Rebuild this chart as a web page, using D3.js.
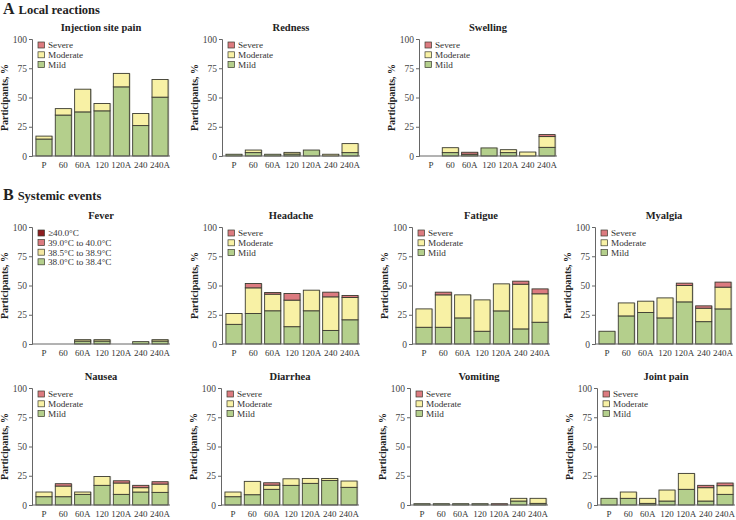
<!DOCTYPE html>
<html><head><meta charset="utf-8">
<script src="https://cdn.jsdelivr.net/npm/d3@7"></script>
<style>
body{margin:0;background:#fff;}
svg{font-family:"Liberation Serif","DejaVu Serif",serif;}
</style></head>
<body><svg id="c" width="736" height="520"></svg>
<script>
const categories = ["P","60","60A","120","120A","240","240A"];
const yTicks = [0,25,50,75,100];
const severityLabels = ["Severe","Moderate","Mild"];
const feverLabels = ["\u226540.0\u00B0C","39.0\u00B0C to 40.0\u00B0C","38.5\u00B0C to 38.9\u00B0C","38.0\u00B0C to 38.4\u00B0C"];

// Local reactions
const painMild = [14.5,35,37.7,38.6,59.1,26,50.3];
const painModerate = [2.5,5.5,19.4,6.3,11.5,10.3,15.1];
const painSevere = [0,0,0,0,0,0,0];
const rednessMild = [1.5,2.9,1.5,1.7,5.1,0,2.9];
const rednessModerate = [0,2.2,0,1.4,0,1.5,7.7];
const rednessSevere = [0,0,0,0,0,0,0];
const swellingMild = [0,2.9,1.5,6.9,2.9,0,7.4];
const swellingModerate = [0,4.2,0,0,2.5,3.4,9.2];
const swellingSevere = [0,0,1.7,0,0,0,1.7];
// Systemic events
const fever38_0 = [0,0,2.5,2.5,0,2,2.5];
const fever38_5 = [0,0,1.2,1.2,0,0,1.2];
const fever39_0 = [0,0,0,0,0,0,0];
const fever40_0 = [0,0,0,0,0,0,0];
const headacheMild = [16.8,26.1,28.4,14.8,28.4,11.6,20.7];
const headacheModerate = [9.3,21.9,14.2,22.7,17.6,28.7,19.1];
const headacheSevere = [0,3.7,1.4,5.7,0,4,1.7];
const fatigueMild = [14.3,14.3,22.3,10.9,28.3,12.9,18.6];
const fatigueModerate = [15.7,27.7,19.7,26.8,23.1,38.2,24.3];
const fatigueSevere = [0,2.3,0,0,0,2.6,4.2];
const myalgiaMild = [10.9,24,26.9,22.3,36,19.1,30];
const myalgiaModerate = [0,11.1,9.7,17.1,14,11.5,18.6];
const myalgiaSevere = [0,0,0,0,2,2,4.3];
const nauseaMild = [7.1,7.1,9.1,16.8,9.1,11.1,10.8];
const nauseaModerate = [4,9.1,2,7.6,9.7,3.7,7.1];
const nauseaSevere = [0,2,0,0,1.9,2,2];
const diarrheaMild = [7.1,8.8,13.4,16.8,18.5,21,15.1];
const diarrheaModerate = [4,11.4,3.6,5.6,4.2,1.7,5.4];
const diarrheaSevere = [0,0,2,0,0,0,0];
const vomitingMild = [1.1,1.1,1.1,1.1,0,3.4,1.4];
const vomitingModerate = [0,0,0,0,0,2.3,4.3];
const vomitingSevere = [0,0,0,0,1.1,0,0];
const jointMild = [5.7,5.7,1.4,3.4,13.4,3.4,9.1];
const jointModerate = [0,5.4,4.3,9.4,13.6,11.4,7.4];
const jointSevere = [0,0,0,0,0,2,2.3];

const green="#b4cf8c", yellow="#f8f1a5", red="#dc7b80", darkred="#8e1d1f";
const sevColors=[red,yellow,green];
const feverColors=[darkred,red,"#f4e7a0",green];

const panels=[
 {title:"Injection site pain",ax:32,top:39,series:[painMild,painModerate,painSevere],leg:severityLabels,colors:sevColors},
 {title:"Redness",ax:222,top:39,series:[rednessMild,rednessModerate,rednessSevere],leg:severityLabels,colors:sevColors},
 {title:"Swelling",ax:419,top:39,series:[swellingMild,swellingModerate,swellingSevere],leg:severityLabels,colors:sevColors},
 {title:"Fever",ax:32,top:227,series:[fever38_0,fever38_5,fever39_0,fever40_0],leg:feverLabels,colors:feverColors},
 {title:"Headache",ax:222,top:227,series:[headacheMild,headacheModerate,headacheSevere],leg:severityLabels,colors:sevColors},
 {title:"Fatigue",ax:412,top:227,series:[fatigueMild,fatigueModerate,fatigueSevere],leg:severityLabels,colors:sevColors},
 {title:"Myalgia",ax:595,top:227,series:[myalgiaMild,myalgiaModerate,myalgiaSevere],leg:severityLabels,colors:sevColors},
 {title:"Nausea",ax:32,top:388,series:[nauseaMild,nauseaModerate,nauseaSevere],leg:severityLabels,colors:sevColors},
 {title:"Diarrhea",ax:221,top:388,series:[diarrheaMild,diarrheaModerate,diarrheaSevere],leg:severityLabels,colors:sevColors},
 {title:"Vomiting",ax:410,top:388,series:[vomitingMild,vomitingModerate,vomitingSevere],leg:severityLabels,colors:sevColors},
 {title:"Joint pain",ax:597,top:388,series:[jointMild,jointModerate,jointSevere],leg:severityLabels,colors:sevColors}
];

const svg=d3.select("#c");
svg.append("rect").attr("width",736).attr("height",520).attr("fill","#fff");

function section(letter,text,y){
  const t=svg.append("text").attr("x",3).attr("y",y).attr("font-weight","bold").attr("fill","#222");
  t.append("tspan").attr("font-size",16).text(letter);
  t.append("tspan").attr("font-size",12.5).attr("dx",4).text(text);
}
section("A","Local reactions",14);
section("B","Systemic events",200);

const W=138,H=117;
panels.forEach(p=>{
  const g=svg.append("g").attr("transform",`translate(${p.ax},${p.top})`);
  const x=d3.scaleBand().domain(categories).range([2,W]).paddingInner(0.17).paddingOuter(0.1);
  const y=d3.scaleLinear().domain([0,100]).range([H,0]);
  const rows=categories.map((c,i)=>{const o={cat:c};p.series.forEach((s,k)=>o["s"+k]=s[i]);return o;});
  const keys=p.series.map((s,k)=>"s"+k);
  const stack=d3.stack().keys(keys)(rows);
  const colBottomUp=p.colors.slice().reverse();
  stack.forEach((layer,k)=>{
    g.selectAll(null).data(layer.filter(d=>d[1]-d[0]>0)).enter().append("rect")
      .attr("x",d=>x(d.data.cat)+1.2).attr("width",x.bandwidth())
      .attr("y",d=>y(d[1])).attr("height",d=>y(d[0])-y(d[1]))
      .attr("fill","#9a9a8a").attr("opacity",0.5);
  });
  stack.forEach((layer,k)=>{
    g.selectAll(null).data(layer.filter(d=>d[1]-d[0]>0)).enter().append("rect")
      .attr("x",d=>x(d.data.cat)).attr("width",x.bandwidth())
      .attr("y",d=>y(d[1])).attr("height",d=>y(d[0])-y(d[1]))
      .attr("fill",colBottomUp[k]).attr("stroke","#3b3b30").attr("stroke-width",0.9);
  });
  const ya=g.append("g").call(d3.axisLeft(y).tickValues(yTicks).tickSize(3).tickPadding(2));
  ya.select(".domain").attr("stroke","#666");
  ya.selectAll(".tick line").attr("stroke","#666");
  ya.selectAll("text").attr("font-size",9.5).attr("fill","#444").attr("font-family","Liberation Serif, serif");
  const xa=g.append("g").attr("transform",`translate(0,${H})`).call(d3.axisBottom(x).tickSize(0).tickPadding(6));
  xa.select(".domain").attr("stroke","#666").attr("d",`M0,0H${W}`);
  xa.selectAll("text").attr("font-size",9).attr("fill","#333").attr("font-family","Liberation Serif, serif");
  g.append("text").attr("x",W/2).attr("y",-8).attr("text-anchor","middle")
    .attr("font-weight","bold").attr("font-size",10.5).attr("fill","#222").text(p.title);
  g.append("text").attr("transform",`translate(-24,${H/2}) rotate(-90)`).attr("text-anchor","middle")
    .attr("font-weight","bold").attr("font-size",10).attr("fill","#222").text("Participants, %");
  const lg=g.append("g").attr("transform","translate(6,3)");
  const sp=p.leg.length>3?9.6:9.8;
  p.leg.forEach((t,i)=>{
    lg.append("rect").attr("x",0).attr("y",i*sp).attr("width",6.5).attr("height",6)
      .attr("fill",p.colors[i]).attr("stroke","#3b3b30").attr("stroke-width",0.7);
    lg.append("text").attr("x",10).attr("y",i*sp+6.3).attr("font-size",9.2).attr("fill","#333").text(t);
  });
});
</script></body></html>
